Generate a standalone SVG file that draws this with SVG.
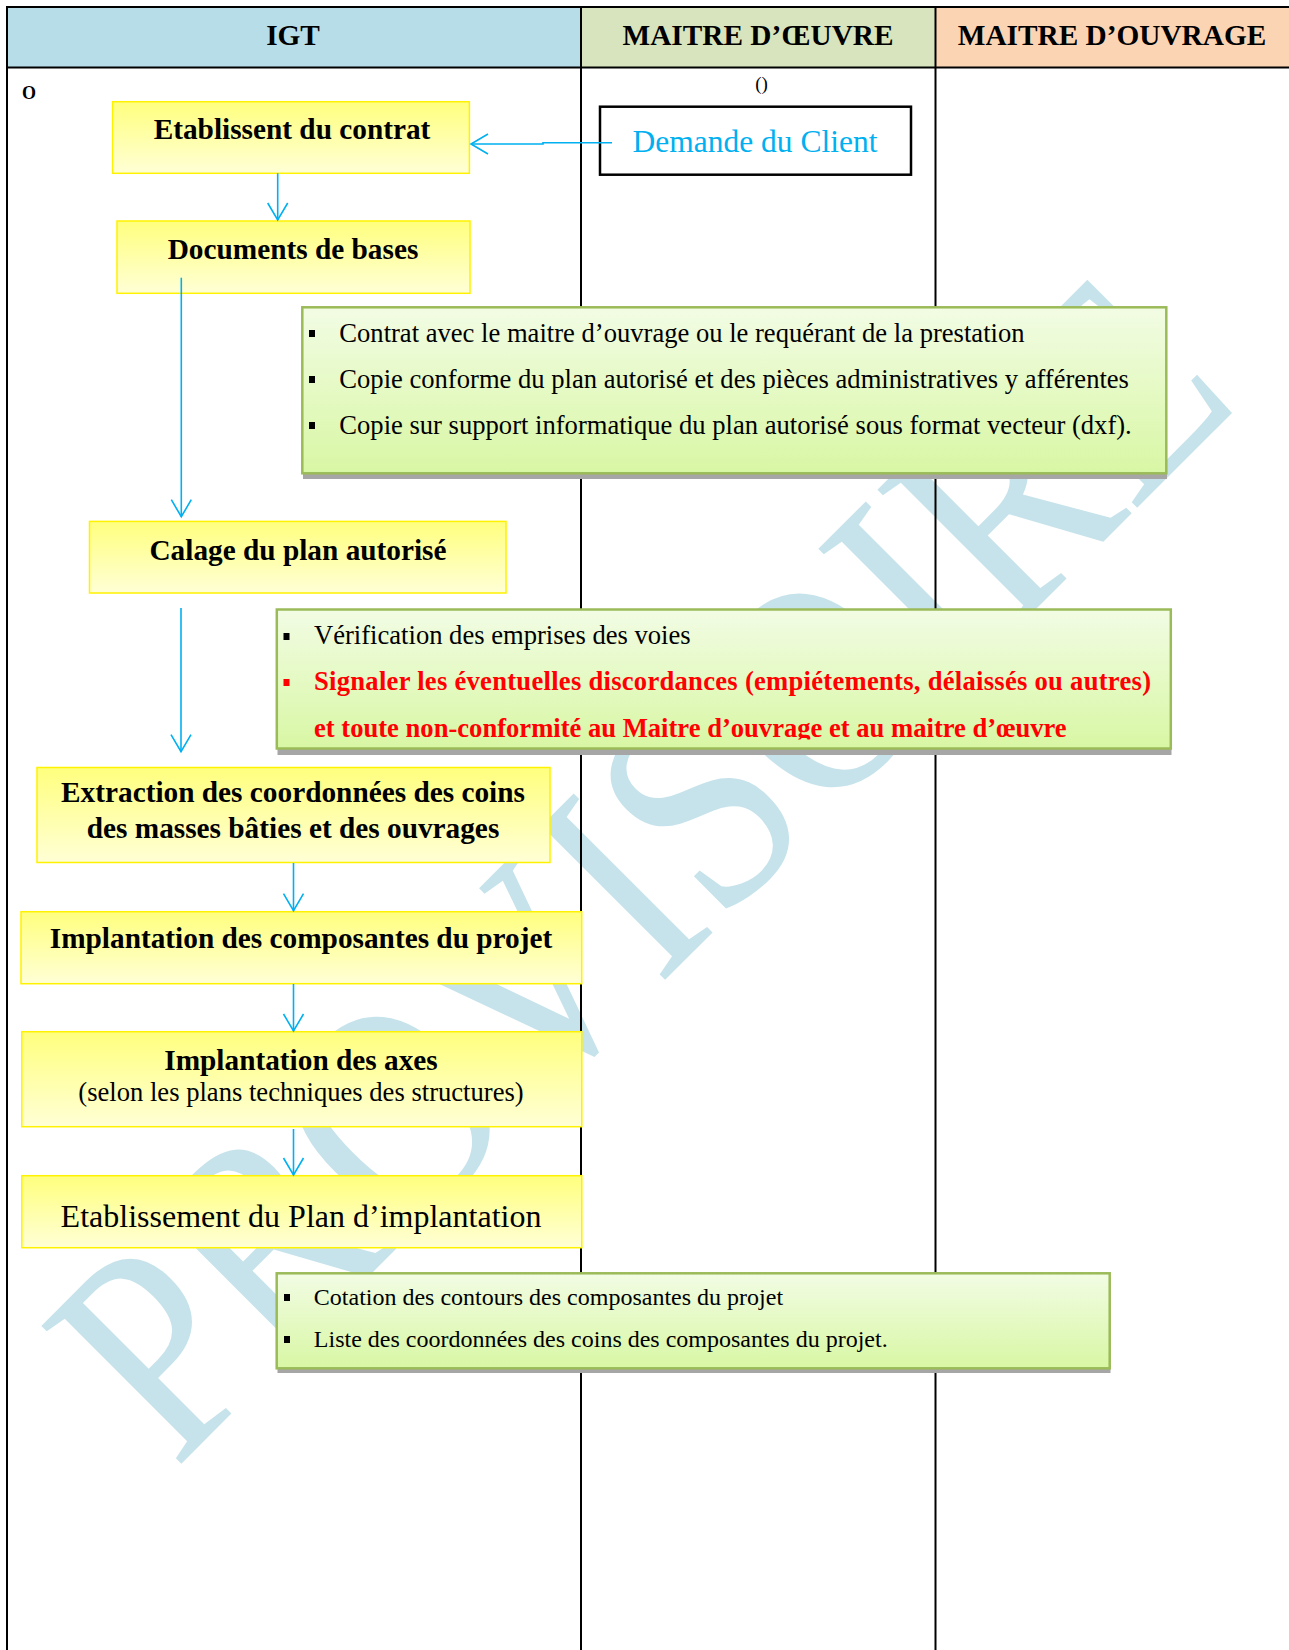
<svg xmlns="http://www.w3.org/2000/svg" width="1289" height="1650" viewBox="0 0 1289 1650">
<defs>
<linearGradient id="yg" x1="0" y1="0" x2="0" y2="1"><stop offset="0" stop-color="#FFFF7E"/><stop offset="1" stop-color="#FFFFD6"/></linearGradient>
<linearGradient id="gg" x1="0" y1="0" x2="0" y2="1"><stop offset="0" stop-color="#F2FCE4"/><stop offset="1" stop-color="#D8F7A4"/></linearGradient>
<clipPath id="clipG2"><rect x="276" y="609" width="896" height="130.5"/></clipPath>
<marker id="arr" viewBox="0 0 24 24" refX="22" refY="12" markerWidth="24" markerHeight="24" markerUnits="userSpaceOnUse" orient="auto"><path d="M5,2 L22,12 L5,22" fill="none" stroke="#00B0F0" stroke-width="1.6"/></marker>
<style>
.serif{font-family:"Liberation Serif","Times New Roman",serif}
.hdr{font-family:"Liberation Serif","Times New Roman",serif;font-weight:bold;font-size:29.3px;fill:#000;text-anchor:middle}
.ttl{font-family:"Liberation Serif","Times New Roman",serif;font-weight:bold;font-size:29.3px;fill:#000;text-anchor:middle}
.ybox{fill:url(#yg);stroke:#FFF200;stroke-width:1.5}
.gbox{fill:url(#gg);stroke:#9BBB59;stroke-width:2.5}
.shadow{fill:#A6A6A6}
.gt{font-family:"Liberation Serif","Times New Roman",serif;font-size:26.6px;fill:#000}
.gt3{font-family:"Liberation Serif","Times New Roman",serif;font-size:24px;fill:#000}
.red{fill:#FF0000;font-weight:bold}
.bul{fill:#000}
.grid{stroke:#000;stroke-width:2;fill:none}
.conn{stroke:#00B0F0;stroke-width:1.6;fill:none}
</style>
</defs>
<rect x="0" y="0" width="1289" height="1650" fill="#FFFFFF"/>
<g id="header">
<rect x="7" y="7" width="574" height="61" fill="#B7DDE8"/>
<rect x="581" y="7" width="355" height="61" fill="#D7E4BD"/>
<rect x="936" y="7" width="353" height="61" fill="#FBD4B4"/>
<text class="hdr" x="293" y="45">IGT</text>
<text class="hdr" x="758" y="45">MAITRE D’ŒUVRE</text>
<text class="hdr" x="1112" y="45">MAITRE D’OUVRAGE</text>
</g>
<g id="watermark">
<text class="serif" x="175" y="1470" transform="rotate(-45 175 1470)" font-size="300" fill="#C6E3EB" textLength="1510" lengthAdjust="spacingAndGlyphs">PROVISOIRE</text>
</g>
<g id="grid">
<line class="grid" x1="7" y1="7" x2="1289" y2="7"/>
<line class="grid" x1="7" y1="67.5" x2="1289" y2="67.5" stroke-width="2.5"/>
<line class="grid" x1="7" y1="6" x2="7" y2="1650"/>
<line class="grid" x1="581" y1="7" x2="581" y2="1650"/>
<line class="grid" x1="935.5" y1="7" x2="935.5" y2="1650"/>
</g>
<g id="marks">
<text class="serif" x="22" y="99" font-size="18" font-weight="bold">O</text>
<text class="serif" x="761.5" y="90" font-size="19" text-anchor="middle">()</text>
</g>
<g id="n-contrat">
<rect class="ybox" x="112.6" y="101.7" width="356.8" height="71.6"/>
<text class="ttl" x="292" y="138.5">Etablissent du contrat</text>
</g>
<g id="n-client">
<rect x="600" y="106.7" width="311" height="68" fill="#FFFFFF" stroke="#000" stroke-width="2.5"/>
<text class="serif" x="755" y="151.7" font-size="31.5" fill="#00B0F0" text-anchor="middle">Demande du Client</text>
</g>
<g id="n-docs">
<rect class="ybox" x="117" y="221" width="353" height="72.3"/>
<text class="ttl" x="293" y="259">Documents de bases</text>
</g>
<g id="n-note1">
<rect class="shadow" x="303" y="312" width="864" height="167"/>
<rect class="gbox" x="302.3" y="307.3" width="864" height="166"/>
<rect class="bul" x="309" y="330" width="6" height="7"/>
<rect class="bul" x="309" y="376" width="6" height="7"/>
<rect class="bul" x="309" y="422" width="6" height="7"/>
<text class="gt" x="339.3" y="341.7">Contrat avec le maitre d’ouvrage ou le requérant de la prestation</text>
<text class="gt" x="339.3" y="387.5">Copie conforme du plan autorisé et des pièces administratives y afférentes</text>
<text class="gt" x="339.3" y="434">Copie sur support informatique du plan autorisé sous format vecteur (dxf).</text>
</g>
<g id="n-calage">
<rect class="ybox" x="89.5" y="521.4" width="416.5" height="71.6"/>
<text class="ttl" x="298" y="560">Calage du plan autorisé</text>
</g>
<g id="n-note2">
<rect class="shadow" x="277.5" y="614" width="894" height="141"/>
<rect class="gbox" x="276.8" y="609.5" width="894" height="139"/>
<rect class="bul" x="283.5" y="633" width="6" height="7"/>
<rect x="283.5" y="679" width="6" height="7" fill="#FF0000"/>
<g clip-path="url(#clipG2)">
<text class="gt" x="314" y="644">Vérification des emprises des voies</text>
<text class="gt red" x="314" y="690" textLength="837" lengthAdjust="spacing">Signaler les éventuelles discordances (empiétements, délaissés ou autres)</text>
<text class="gt red" x="314" y="736.5">et toute non-conformité au Maitre d’ouvrage et au maitre d’œuvre</text>
</g>
</g>
<g id="n-extraction">
<rect class="ybox" x="37" y="767.5" width="513" height="95"/>
<text class="ttl" x="293" y="801.7">Extraction des coordonnées des coins</text>
<text class="ttl" x="293" y="838.3">des masses bâties et des ouvrages</text>
</g>
<g id="n-composantes">
<rect class="ybox" x="21" y="911.7" width="560.7" height="72"/>
<text class="ttl" x="301" y="948.3">Implantation des composantes du projet</text>
</g>
<g id="n-axes">
<rect class="ybox" x="21.8" y="1031.7" width="560" height="95"/>
<text class="ttl" x="301" y="1070">Implantation des axes</text>
<text class="serif" x="301" y="1100.7" font-size="26.6" text-anchor="middle">(selon les plans techniques des structures)</text>
</g>
<g id="n-plan">
<rect class="ybox" x="21.8" y="1175.7" width="560" height="72"/>
<text class="serif" x="301" y="1227.3" font-size="32" text-anchor="middle">Etablissement du Plan d’implantation</text>
</g>
<g id="n-note3">
<rect class="shadow" x="277.5" y="1278" width="833" height="95"/>
<rect class="gbox" x="276.7" y="1273.3" width="833" height="95"/>
<rect class="bul" x="284" y="1294" width="6" height="7"/>
<rect class="bul" x="284" y="1336" width="6" height="7"/>
<text class="gt3" x="313.8" y="1305">Cotation des contours des composantes du projet</text>
<text class="gt3" x="313.8" y="1347.3">Liste des coordonnées des coins des composantes du projet.</text>
</g>
<g id="connectors">
<path class="conn" d="M612,142.7 H543 V144 H471" marker-end="url(#arr)"/>
<path class="conn" d="M277.7,173.3 V220" marker-end="url(#arr)"/>
<path class="conn" d="M181.3,277.7 V516.7" marker-end="url(#arr)"/>
<path class="conn" d="M181,608 V751.7" marker-end="url(#arr)"/>
<path class="conn" d="M293.5,863 V910.7" marker-end="url(#arr)"/>
<path class="conn" d="M293.5,984 V1031" marker-end="url(#arr)"/>
<path class="conn" d="M293.5,1129 V1175" marker-end="url(#arr)"/>
</g>
</svg>
